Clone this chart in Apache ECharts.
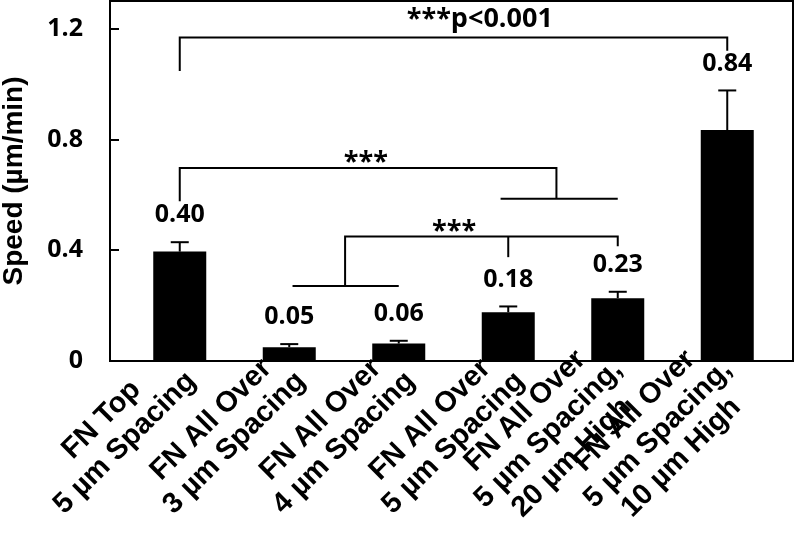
<!DOCTYPE html>
<html>
<head>
<meta charset="utf-8">
<script src="https://cdn.jsdelivr.net/npm/echarts@6/dist/echarts.min.js"></script>
<style>
  html, body { margin: 0; padding: 0; background: #fff; }
  #chart { width: 800px; height: 544px; }
</style>
</head>
<body>
<div id="chart"></div>
<script>
// categories (two or three lines each)
const categories = [
  'FN Top\n5 µm Spacing',
  'FN All Over\n3 µm Spacing',
  'FN All Over\n4 µm Spacing',
  'FN All Over\n5 µm Spacing',
  'FN All Over\n5 µm Spacing,\n20 µm High',
  'FN All Over\n5 µm Spacing,\n10 µm High'
];
// mean speed and upper error (µm/min)
const means = [0.395, 0.050, 0.063, 0.176, 0.227, 0.834];
const errors = [0.034, 0.011, 0.010, 0.021, 0.023, 0.143];
const valueLabels = ['0.40', '0.05', '0.06', '0.18', '0.23', '0.84'];

// significance brackets, in (category index, value) units
const brackets = [
  [[0, 1.047], [0, 1.168], [5, 1.168], [5, 1.12]],
  [[0, 0.577], [0, 0.697], [3.44, 0.697], [3.44, 0.586]],
  [[2.93, 0.586], [4, 0.586]],
  [[1.03, 0.271], [2, 0.271]],
  [[1.51, 0.271], [1.51, 0.45], [4, 0.45], [4, 0.414]],
  [[3, 0.45], [3, 0.375]]
];
const sigLabels = ['***p<0.001', '***', '***'];
const sigPositions = [[2.74, 1.234], [1.70, 0.717], [2.505, 0.467]];

const numFont = 'Open Sans';
const catFont = 'Liberation Sans';
const catSize = 29;

// widest line of each label, so the shorter lines can be centred in the block
const ctx = document.createElement('canvas').getContext('2d');
ctx.font = 'bold ' + catSize + 'px "' + catFont + '"';
const rich = {};
categories.forEach((c, i) => {
  const w = Math.max(...c.split('\n').map(l => ctx.measureText(l).width));
  rich['w' + i] = {
    width: Math.ceil(w),
    align: 'center',
    fontFamily: catFont,
    fontWeight: 'bold',
    fontSize: catSize,
    lineHeight: 33,
    color: '#000'
  };
});

const chart = echarts.init(document.getElementById('chart'));

// category axis rounds fractional indices, so interpolate inside the band
function toPixel(api, p) {
  const k = Math.floor(p[0]);
  const c = api.coord([k, p[1]]);
  const band = api.size([1, 0])[0];
  return [c[0] + (p[0] - k) * band, c[1]];
}

chart.setOption({
  backgroundColor: '#fff',
  animation: false,
  grid: { left: 125, right: 18, top: 1, bottom: 183, outerBoundsMode: 'none' },
  xAxis: {
    type: 'category',
    data: categories,
    axisLine: { show: false },
    axisTick: { show: false },
    axisLabel: {
      interval: 0,
      rotate: 45,
      margin: 4,
      formatter: (value, index) =>
        value.split('\n').map(l => '{w' + index + '|' + l + '}').join('\n'),
      rich: rich
    }
  },
  yAxis: {
    type: 'value',
    min: 0,
    max: 1.3,
    interval: 0.4,
    offset: 15,
    name: 'Speed (µm/min)',
    nameLocation: 'middle',
    nameGap: 82,
    nameTextStyle: {
      fontFamily: catFont,
      fontWeight: 'bold',
      fontSize: 28,
      color: '#000'
    },
    axisLine: { show: true, lineStyle: { color: '#000', width: 2 } },
    axisTick: { show: true, inside: true, length: 9, lineStyle: { color: '#000', width: 2 } },
    axisLabel: {
      margin: 27,
      showMaxLabel: false,
      fontFamily: numFont,
      fontWeight: 'bold',
      fontSize: 25,
      color: '#000'
    },
    splitLine: { show: false }
  },
  graphic: [
    {
      type: 'rect',
      shape: { x: 110, y: 1, width: 683, height: 360 },
      style: { fill: null, stroke: '#000', lineWidth: 2 },
      z: 100
    }
  ],
  series: [
    {
      type: 'bar',
      data: means,
      barWidth: 53,
      itemStyle: { color: '#000' },
      z: 2
    },
    {
      // error bars + value labels
      type: 'custom',
      data: means.map((m, i) => [i, m, m + errors[i]]),
      encode: { x: 0, y: [1, 2] },
      z: 3,
      renderItem: (params, api) => {
        const i = api.value(0);
        const base = api.coord([i, api.value(1)]);
        const top = api.coord([i, api.value(2)]);
        const cap = 9;
        return {
          type: 'group',
          children: [
            { type: 'line', shape: { x1: base[0], y1: base[1], x2: top[0], y2: top[1] },
              style: { stroke: '#000', lineWidth: 2 } },
            { type: 'line', shape: { x1: top[0] - cap, y1: top[1], x2: top[0] + cap, y2: top[1] },
              style: { stroke: '#000', lineWidth: 2 } },
            { type: 'text',
              style: { text: valueLabels[params.dataIndex], x: top[0], y: top[1] - 27,
                align: 'center', verticalAlign: 'middle', fill: '#000',
                fontFamily: numFont, fontWeight: 'bold', fontSize: 25 } }
          ]
        };
      }
    },
    {
      // significance brackets
      type: 'custom',
      data: brackets.map(b => b[0]),
      encode: { x: 0, y: 1 },
      z: 3,
      renderItem: (params, api) => {
        const pts = brackets[params.dataIndex].map(p => toPixel(api, p));
        return {
          type: 'polyline',
          shape: { points: pts },
          style: { stroke: '#000', lineWidth: 2, fill: null }
        };
      }
    },
    {
      // significance text
      type: 'custom',
      data: sigPositions,
      encode: { x: 0, y: 1 },
      z: 3,
      renderItem: (params, api) => {
        const p = toPixel(api, sigPositions[params.dataIndex]);
        return {
          type: 'text',
          style: { text: sigLabels[params.dataIndex], x: p[0], y: p[1],
            align: 'center', verticalAlign: 'middle', fill: '#000',
            fontFamily: numFont, fontWeight: 'bold', fontSize: 27 }
        };
      }
    }
  ]
});
</script>
</body>
</html>
